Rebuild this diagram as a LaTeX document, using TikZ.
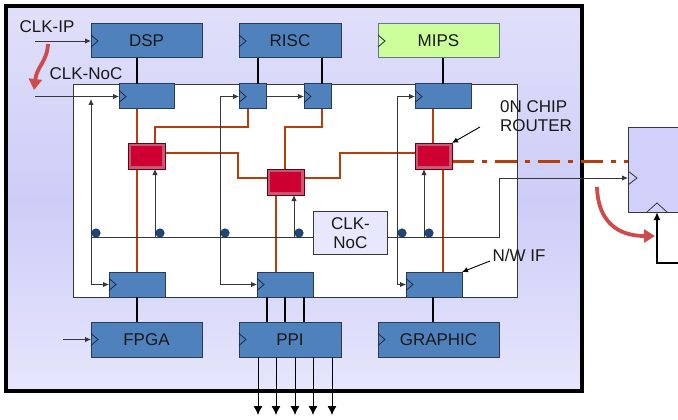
\documentclass[tikz,border=0pt]{standalone}
\usepackage{fontspec}
\setmainfont{Liberation Sans}
\usetikzlibrary{arrows.meta}
\definecolor{blockblue}{RGB}{79,129,189}
\definecolor{blockedge}{RGB}{40,60,90}
\definecolor{mipsgreen}{RGB}{204,255,153}
\definecolor{wirec}{RGB}{180,62,12}
\definecolor{routerred}{RGB}{206,0,50}
\definecolor{routeredge}{RGB}{100,0,20}
\definecolor{routerbevel}{RGB}{225,80,110}
\definecolor{arrowred}{RGB}{205,75,75}
\definecolor{dotblue}{RGB}{30,70,120}
\definecolor{lavtop}{RGB}{224,224,250}
\definecolor{lavmid}{RGB}{205,205,248}
\definecolor{lavbot}{RGB}{230,230,252}
\definecolor{extlav}{RGB}{208,208,250}
\definecolor{clkboxc}{RGB}{232,232,252}
\definecolor{thinc}{RGB}{55,55,55}
\definecolor{txt}{RGB}{25,25,25}
\newcommand\dfont{\fontsize{17}{18.5}\selectfont}
\newcommand\clktri[1]{\draw[line width=0.8pt,draw=blockedge!70!black] ([yshift=6pt]#1.west) -- ([xshift=7pt]#1.west) -- ([yshift=-6pt]#1.west);}
\begin{document}
\begin{tikzpicture}[x=1pt,y=-1pt,
 blk/.style={draw=blockedge,line width=1pt,fill=blockblue,inner sep=0pt,outer sep=0pt,anchor=north west,font=\dfont,text=txt},
 router/.style={draw=routeredge,line width=1pt,fill=routerbevel,inner sep=0pt,outer sep=0pt,anchor=north west,minimum width=37pt,minimum height=26pt},
 routerin/.style={draw=routeredge!60,line width=0.5pt,fill=routerred,inner sep=0pt,minimum width=32pt,minimum height=21pt},
 wire/.style={draw=wirec,line width=2.8pt},
 clk/.style={draw=thinc,line width=0.9pt},
 tip/.style={-{Latex[length=6pt,width=5.5pt]}},
 bus/.style={draw=black,line width=2.6pt},
 redarrow/.style={draw=arrowred,line width=3.8pt,-{Triangle[length=11pt,width=13pt]}},
 dotn/.style={circle,fill=dotblue,draw=dotblue!70!black,line width=0.5pt,inner sep=0pt,minimum size=8.5pt},
 lbl/.style={font=\dfont,text=txt,inner sep=0pt}]
\useasboundingbox (0,0) rectangle (678,420);
% chip
\node[draw=black,line width=3.6pt,top color=lavtop,bottom color=lavbot,middle color=lavmid,inner sep=0pt,outer sep=0pt,anchor=north west,minimum width=576pt,minimum height=385pt] (chip) at (6,6) {};
\node[draw=thinc,line width=0.9pt,fill=white,inner sep=0pt,outer sep=0pt,anchor=north west,minimum width=444pt,minimum height=213pt] (noc) at (73,84) {};
% external box
\node[draw=thinc,line width=0.9pt,fill=extlav,inner sep=0pt,outer sep=0pt,anchor=north west,minimum width=80pt,minimum height=85pt] (ext) at (628,127) {};
% helper coordinates
\foreach \v in {91,137,155,220,238,248,258,267,276,285,294,304,322,340,397,424,433,443,499}{\coordinate (x\v) at (\v,0);}
\foreach \v in {99,127,153,161,178,237}{\coordinate (y\v) at (0,\v);}
% blocks
\node[blk,minimum width=111pt,minimum height=34pt] (dsp) at (91,24) {DSP};
\node[blk,minimum width=102pt,minimum height=34pt] (risc) at (239,24) {RISC};
\node[blk,fill=mipsgreen,draw=blockedge!70,minimum width=121pt,minimum height=34pt] (mips) at (378,24) {MIPS};
\node[blk,minimum width=111pt,minimum height=35pt] (fpga) at (91,322) {FPGA};
\node[blk,minimum width=102pt,minimum height=35pt] (ppi) at (239,322) {PPI};
\node[blk,minimum width=121pt,minimum height=35pt] (graphic) at (378,322) {GRAPHIC};
% network interfaces
\node[blk,minimum width=55pt,minimum height=25pt] (n1) at (119,84) {};
\node[blk,minimum width=27pt,minimum height=25pt] (n2) at (239,84) {};
\node[blk,minimum width=27pt,minimum height=25pt] (n3) at (304,84) {};
\node[blk,minimum width=56pt,minimum height=25pt] (n4) at (415,84) {};
\node[blk,minimum width=56pt,minimum height=25pt] (b1) at (109,272) {};
\node[blk,minimum width=56pt,minimum height=25pt] (b2) at (257,272) {};
\node[blk,minimum width=56pt,minimum height=25pt] (b3) at (406,272) {};
% routers (placed now for anchors, redrawn later on top)
\path node[router] (r1) at (128,143) {} node[router] (r2) at (267,169) {} node[router] (r3) at (415,143) {};
% orange wires
\draw[wire] (n1.south -| x137) -- (b1.north -| x137);
\draw[wire] (r1.north -| x155) -- (x155 |- y127) -- (x248 |- y127) -- (n2.south -| x248);
\draw[wire] (n3.south -| x322) -- (x322 |- y127) -- (x285 |- y127) -- (r2.north -| x285);
\draw[wire] (r1.east |- y153) -- (x238 |- y153) -- (x238 |- y178) -- (r2.west |- y178);
\draw[wire] (r2.east |- y178) -- (x340 |- y178) -- (x340 |- y153) -- (r3.west |- y153);
\draw[wire] (n4.south -| x433) -- (r3.north -| x433);
\draw[wire] (r3.south -| x443) -- (b3.north -| x443);
\draw[wire] (r2.south -| x276) -- (b2.north -| x276);
\draw[wire,line width=3pt,dash pattern=on 22pt off 8pt on 5pt off 8pt] (r3.east |- y161) -- (ext.west |- y161);
% routers on top
\node[router] (r1) at (128,143) {};
\node[router] (r2) at (267,169) {};
\node[router] (r3) at (415,143) {};
\node[routerin] (r1i) at (r1.center) {};
\node[routerin] (r2i) at (r2.center) {};
\node[routerin] (r3i) at (r3.center) {};
% thick block connectors
\draw[bus] (dsp.south -| x137) -- (n1.north -| x137);
\draw[bus] (risc.south -| x258) -- (n2.north -| x258);
\draw[bus] (risc.south -| x322) -- (n3.north -| x322);
\draw[bus] (mips.south -| x443) -- (n4.north -| x443);
\draw[bus] (b1.south -| x137) -- (fpga.north -| x137);
\draw[bus] (b2.south -| x267) -- (ppi.north -| x267);
\draw[bus] (b2.south -| x285) -- (ppi.north -| x285);
\draw[bus] (b2.south -| x304) -- (ppi.north -| x304);
\draw[bus] (b3.south -| x433) -- (graphic.north -| x433);
% clock triangles
\foreach \n in {dsp,risc,mips,fpga,ppi,graphic,n1,n2,n3,n4,b1,b2,b3}{\clktri{\n}}
% NoC clock network
\draw[clk] (x91 |- y237) -- (x499 |- y237) -- (x499 |- y178);
\draw[clk,tip] (x499 |- y178) -- (ext.west |- y178);
\draw[clk,tip] (x91 |- b1.west) -- (x91 |- y99);
\draw[clk,tip] (x91 |- b1.west) -- (b1.west);
\coordinate (cnocstart) at (35,0);
\draw[clk,tip] (n1.west -| cnocstart) -- (n1.west);
\draw[clk,tip] (x220 |- b2.west) -- (x220 |- n2.west) -- (n2.west);
\draw[clk,tip] (x220 |- b2.west) -- (b2.west);
\draw[clk,tip] (n2.east) -- (n3.west);
\draw[clk,tip] (x397 |- b3.west) -- (x397 |- n4.west) -- (n4.west);
\draw[clk,tip] (x397 |- b3.west) -- (b3.west);
\draw[clk,tip] (x155 |- y237) -- (r1.south -| x155);
\draw[clk,tip] (x294 |- y237) -- (r2.south -| x294);
\draw[clk,tip] (x424 |- y237) -- (r3.south -| x424);
% CLK-NoC box
\node[draw=thinc,line width=0.9pt,fill=clkboxc,inner sep=0pt,anchor=north west,minimum width=74pt,minimum height=43pt,align=center,font=\dfont,text=txt] (cnocbox) at (313,211) {CLK-\\NoC};
% dots
\foreach \x [count=\i] in {96,160,225,299,402,429}{\node[dotn] (d\i) at (\x,233) {};}
% external clock symbols
\coordinate (etl) at (ext.west |- y178);
\draw[line width=0.8pt,draw=thinc] ([yshift=7pt]etl) -- ([xshift=9pt]etl) -- ([yshift=-7pt]etl);
\coordinate (eb) at (657,263);
\coordinate (er) at (682,263);
\coordinate (etri) at (ext.south -| eb);
\draw[line width=0.8pt,draw=thinc] ([xshift=-10pt]etri) -- ([yshift=9pt]etri) -- ([xshift=10pt]etri);
\draw[draw=black,line width=2pt,-{Latex[length=8pt,width=7pt]}] (er) -- (eb) -- (etri);
% top-left clock inputs
\node[lbl] (clkip) at (47,27) {CLK-IP};
\coordinate (ipstart) at (35,0);
\draw[clk,tip] (dsp.west -| ipstart) -- (dsp.west);
\node[lbl] (clknoc) at (86,74) {CLK-NoC};
\coordinate (ra1) at (48,44);
\coordinate (ra2) at (34,90);
\draw[redarrow] (ra1) .. controls (47,62) and (37,66) .. (ra2);
\coordinate (rb1) at (597,187);
\coordinate (rb2) at (655,236);
\draw[redarrow] (rb1) .. controls (598,222) and (618,236) .. (rb2);
% FPGA clock
\coordinate (fin) at (63,0);
\draw[clk,tip] (fpga.west -| fin) -- (fpga.west);
% PPI outputs
\foreach \x [count=\i] in {258,276,295,313,332}{\coordinate (po\i) at (\x,415); \draw[clk,draw=black,-{Latex[length=9pt,width=9pt]}] (ppi.south -| po\i) -- (po\i);}
% labels with pointers
\node[lbl,align=left,anchor=north west,font=\fontsize{17}{19.5}\selectfont] (routerlbl) at (500,100) {0N CHIP\\ROUTER};
\coordinate (rp) at (480,127);
\draw[clk,draw=black,tip] (rp) -- (r3.north east);
\node[lbl] (nwif) at (519,255) {N/W IF};
\coordinate (np) at (490,261);
\draw[clk,draw=black,tip] (np) -- (b3.north east);
\end{tikzpicture}
\end{document}
